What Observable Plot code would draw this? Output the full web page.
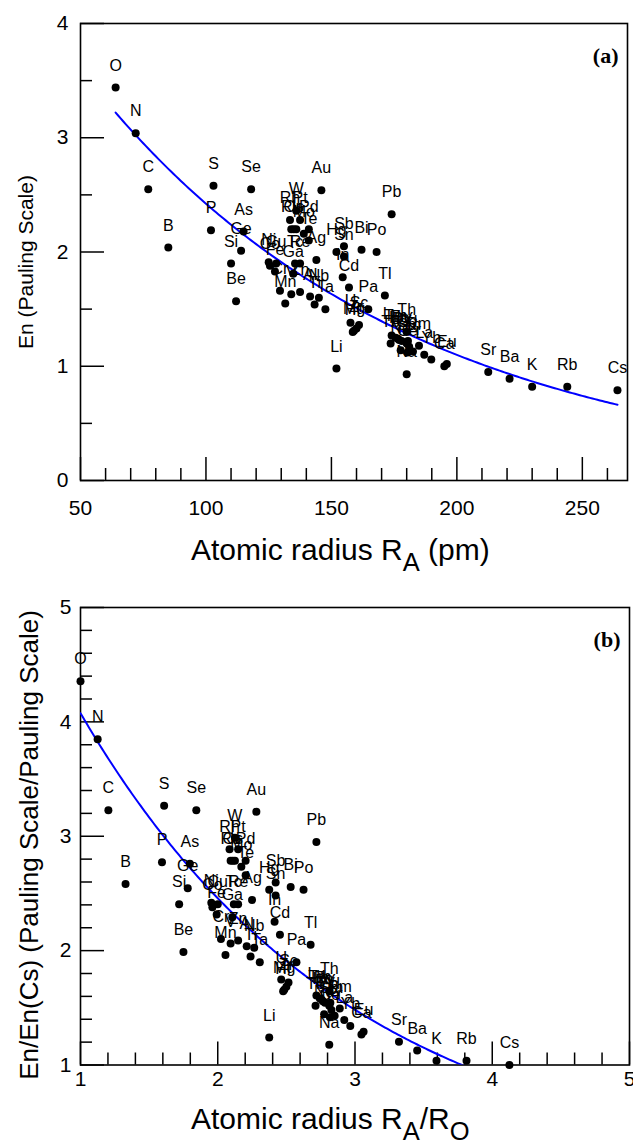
<!DOCTYPE html>
<html>
<head>
<meta charset="utf-8">
<script src="https://cdn.jsdelivr.net/npm/d3@7"></script>
<script src="https://cdn.jsdelivr.net/npm/@observablehq/plot@0.6"></script>
<style>
  html, body { margin: 0; padding: 0; background: #fff; }
  body { position: relative; width: 633px; height: 1140px; overflow: hidden;
         font-family: "Liberation Sans", Arial, Helvetica, sans-serif; color: #000; }
  .panel { position: absolute; left: 0; }
  .xt { position: absolute; white-space: nowrap; line-height: 1; font-size: 30px; }
  .xt .sub { font-size: 0.85em; position: relative; top: 0.42em; }
  .yt { position: absolute; white-space: nowrap; line-height: 1;
        transform: translate(-50%, -50%) rotate(-90deg); }
</style>
</head>
<body>
<div id="pa" class="panel" style="top:0px"></div>
<div id="pb" class="panel" style="top:560px"></div>
<div class="xt" style="left:191px; top:535px;">Atomic radius R<span class="sub">A</span> (pm)</div>
<div class="xt" style="left:191px; top:1104px;">Atomic radius R<span class="sub">A</span>/R<span class="sub">O</span></div>
<div class="yt" style="left:25px; top:262px; font-size:21px;">En (Pauling Scale)</div>
<div class="yt" style="left:29px; top:845px; font-size:26px;">En/En(Cs) (Pauling Scale/Pauling Scale)</div>
<script>
// ---------------- data ----------------
const elements = [
  "O","N","C","B","S","Se","P","As","Ge","Si","Be","Te","Sb","Bi","Po",
  "Au","Pb","W","Pt","Rh","Pd","Ir","Os","Ru","Mo","Hg","Sn","Ag","In","Cd",
  "Ni","Cu","Co","Re","Tc","Fe","Ga","Cr","V","Zn","Nb","Al","Mn","Ti","Ta","Pa","Tl",
  "Li","U","Sc","Mg","Zr","Hf","Th",
  "Lu","Tm","Er","Ho","Dy","Tb","Gd","Y","Sm","Pm","Nd","Pr","Ce","La","Eu","Yb",
  "Na","Ca","Sr","Ba","K","Rb","Cs"
];
// atomic radius R_A (pm)
const radius = [
  64,72,77,85,103,118,102,115,114,110,112,141,155,162,168,
  146,174,136,137.5,133.5,141,136,135,134,139,152,155,144,154.5,157,
  125,128,125.5,137.5,135.5,127.5,134.8,129.5,134,137.5,145,141.5,131.6,143.3,147.6,164.7,171.3,
  152,157.6,161,159,160,158.5,180,
  174,175.6,176.5,177,178,173.6,180,180.5,181,184.9,177.6,182.5,180.3,187,196,189.8,
  180,195,212.5,221,230,244,264
];
// electronegativity En (Pauling scale)
const en = [
  3.44,3.04,2.55,2.04,2.58,2.55,2.19,2.18,2.01,1.90,1.57,2.10,2.05,2.02,2.00,
  2.54,2.33,2.36,2.28,2.28,2.20,2.20,2.20,2.20,2.16,2.00,1.96,1.93,1.78,1.69,
  1.91,1.90,1.88,1.90,1.90,1.83,1.81,1.66,1.63,1.65,1.60,1.61,1.55,1.54,1.50,1.50,1.62,
  0.98,1.38,1.36,1.31,1.33,1.30,1.30,
  1.27,1.25,1.24,1.23,1.22,1.20,1.20,1.22,1.17,1.18,1.14,1.13,1.12,1.10,1.02,1.06,
  0.93,1.00,0.95,0.89,0.82,0.82,0.79
];
// exponential fit drawn in blue: En = fitA * exp(-fitK * (R - fitFrom))
const fitA = 3.22, fitK = 0.0079, fitFrom = 64, fitTo = 264;

// tick labels
const xTicksA = [50, 100, 150, 200, 250];
const yTicksA = [0, 1, 2, 3, 4];
const xTicksB = [1, 2, 3, 4, 5];
const yTicksB = [1, 2, 3, 4, 5];

// ---------------- derived ----------------
const R_O = radius[elements.indexOf("O")];
const EN_CS = en[elements.indexOf("Cs")];
const rows = elements.map((el, i) => ({
  el, r: radius[i], en: en[i], rr: radius[i] / R_O, er: en[i] / EN_CS
}));
const fit = d3.range(fitFrom, fitTo + 0.5, 1).map(r => {
  const e = fitA * Math.exp(-fitK * (r - fitFrom));
  return {r, en: e, rr: r / R_O, er: e / EN_CS};
});

const xMinorA = d3.range(60, 268, 10).filter(v => v % 50 !== 0);
const yMinorA = [0.5, 1.5, 2.5, 3.5];
const xMinorB = d3.range(5, 25).filter(i => i % 5 !== 0).map(i => i / 5);
const yMinorB = xMinorB;

const font = "'Liberation Sans', Arial, Helvetica, sans-serif";
const serif = "'Liberation Serif', 'Times New Roman', serif";
const ink = {stroke: "black", strokeWidth: 1.5};
const intFmt = d3.format("d");

function panel({width, height, mt, mb, ml, mr, xDomain, yDomain, xKey, yKey,
                xMajor, xMinor, yMajor, yMinor, xPad, yPad, tag}) {
  const ih = height - mt - mb, iw = width - ml - mr;
  return Plot.plot({
    width, height, marginTop: mt, marginBottom: mb, marginLeft: ml, marginRight: mr,
    style: {background: "transparent", fontFamily: font, color: "black", overflow: "visible"},
    x: {domain: xDomain, label: null},
    y: {domain: yDomain, label: null},
    marks: [
      Plot.tickX(xMinor, {x: d => d, insetTop: ih - 12, ...ink}),
      Plot.tickX(xMajor, {x: d => d, insetTop: ih - 23, ...ink}),
      Plot.tickY(yMinor, {y: d => d, insetRight: iw - 12, ...ink}),
      Plot.tickY(yMajor, {y: d => d, insetRight: iw - 24, ...ink}),
      Plot.frame({stroke: "black", strokeWidth: 1.6}),
      Plot.axisX(xMajor, {tickSize: 0, tickPadding: xPad, fontSize: 21, label: null, tickFormat: intFmt}),
      Plot.axisY(yMajor, {tickSize: 0, tickPadding: yPad, fontSize: 21, label: null, tickFormat: intFmt}),
      Plot.line(fit, {x: xKey, y: yKey, stroke: "#0000ff", strokeWidth: 2, clip: true}),
      Plot.dot(rows, {x: xKey, y: yKey, r: 4, fill: "black"}),
      Plot.text(rows, {x: xKey, y: yKey, text: "el", dy: -22, fontSize: 16, fill: "black"}),
      Plot.text([tag], {frameAnchor: "top-right", dx: -9, dy: 24, textAnchor: "end",
                        fontFamily: serif, fontWeight: "bold", fontSize: 22, fill: "black"})
    ]
  });
}

document.getElementById("pa").append(panel({
  width: 633, height: 530, mt: 23, mb: 50, ml: 80, mr: 6,
  xDomain: [50, 268], yDomain: [0, 4], xKey: "r", yKey: "en",
  xMajor: xTicksA, xMinor: xMinorA, yMajor: yTicksA, yMinor: yMinorA,
  xPad: 20, yPad: 12, tag: "(a)"
}));
document.getElementById("pb").append(panel({
  width: 633, height: 540, mt: 47, mb: 35.5, ml: 80, mr: 4,
  xDomain: [1, 5], yDomain: [1, 5], xKey: "rr", yKey: "er",
  xMajor: xTicksB, xMinor: xMinorB, yMajor: yTicksB, yMinor: yMinorB,
  xPad: 6, yPad: 9, tag: "(b)"
}));
</script>
</body>
</html>
